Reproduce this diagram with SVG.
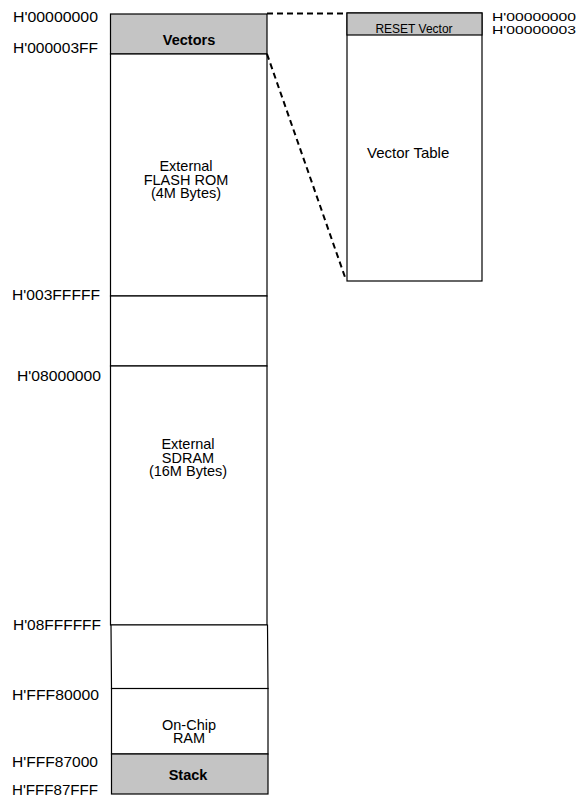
<svg xmlns="http://www.w3.org/2000/svg" width="578" height="796" viewBox="0 0 578 796">
<style>
.box{fill:#fff;stroke:#000;stroke-width:1.2}
.gray{fill:#c4c4c4;stroke:#000;stroke-width:1.2}
.t{font-family:"Liberation Sans",Arial,sans-serif;font-size:14.5px;fill:#000}
.c{text-anchor:middle}
.b{font-weight:bold}
.addr{font-family:"Liberation Sans",Arial,sans-serif;font-size:14.5px;fill:#000;text-anchor:end}
.raddr{font-family:"Liberation Sans",Arial,sans-serif;font-size:11.5px;fill:#000}
.dash{fill:none;stroke:#000;stroke-width:2;stroke-dasharray:6 4}
</style>
<rect width="578" height="796" fill="#fff"/>
<g id="vectors">
<rect class="gray" x="110.5" y="14" width="156.5" height="40"/>
<text class="t c b" x="189" y="45">Vectors</text>
</g>
<g id="flash-rom">
<rect class="box" x="110.5" y="54" width="156.5" height="242"/>
<text class="t c" x="186" y="171">External</text>
<text class="t c" x="186" y="184.5">FLASH ROM</text>
<text class="t c" x="186" y="198">(4M Bytes)</text>
</g>
<g id="gap1">
<rect class="box" x="110.5" y="296" width="156.5" height="70"/>
</g>
<g id="sdram">
<rect class="box" x="110.5" y="366" width="156.5" height="259"/>
<text class="t c" x="188" y="449">External</text>
<text class="t c" x="188" y="462.5">SDRAM</text>
<text class="t c" x="188" y="476">(16M Bytes)</text>
</g>
<g id="gap2">
<path class="box" d="M111 625 L267.5 625 L268 688.5 L111.5 688.5 Z"/>
</g>
<g id="on-chip-ram">
<rect class="box" x="111.5" y="688.5" width="156.5" height="65.5"/>
<text class="t c" x="189" y="729.5">On-Chip</text>
<text class="t c" x="189" y="743">RAM</text>
</g>
<g id="stack">
<rect class="gray" x="111.5" y="754" width="156.5" height="40"/>
<text class="t c b" x="188" y="780">Stack</text>
</g>
<g id="vector-table">
<rect class="box" x="347" y="13" width="135" height="268"/>
<text class="t" x="367" y="158" style="font-size:15px">Vector Table</text>
</g>
<g id="reset-vector">
<rect class="gray" x="347" y="13" width="135" height="22"/>
<text class="t c" x="414" y="33" style="font-size:12px">RESET Vector</text>
</g>
<g id="connectors">
<line class="dash" x1="267" y1="13.5" x2="346" y2="13.5"/>
<line class="dash" x1="267" y1="54" x2="346" y2="280"/>
</g>
<g id="labels">
<text class="addr" x="98" y="22" textLength="85" lengthAdjust="spacingAndGlyphs">H'00000000</text>
<text class="addr" x="98" y="53" textLength="85" lengthAdjust="spacingAndGlyphs">H'000003FF</text>
<text class="addr" x="100" y="300" textLength="88" lengthAdjust="spacingAndGlyphs">H'003FFFFF</text>
<text class="addr" x="101" y="381" textLength="84" lengthAdjust="spacingAndGlyphs">H'08000000</text>
<text class="addr" x="101" y="630" textLength="88" lengthAdjust="spacingAndGlyphs">H'08FFFFFF</text>
<text class="addr" x="99" y="700" textLength="87" lengthAdjust="spacingAndGlyphs">H'FFF80000</text>
<text class="addr" x="98" y="767" textLength="86" lengthAdjust="spacingAndGlyphs">H'FFF87000</text>
<text class="addr" x="98" y="795" textLength="86" lengthAdjust="spacingAndGlyphs">H'FFF87FFF</text>
<text class="raddr" x="492" y="21" textLength="84" lengthAdjust="spacingAndGlyphs">H'00000000</text>
<text class="raddr" x="492" y="34" textLength="84" lengthAdjust="spacingAndGlyphs">H'00000003</text>
</g>
</svg>
